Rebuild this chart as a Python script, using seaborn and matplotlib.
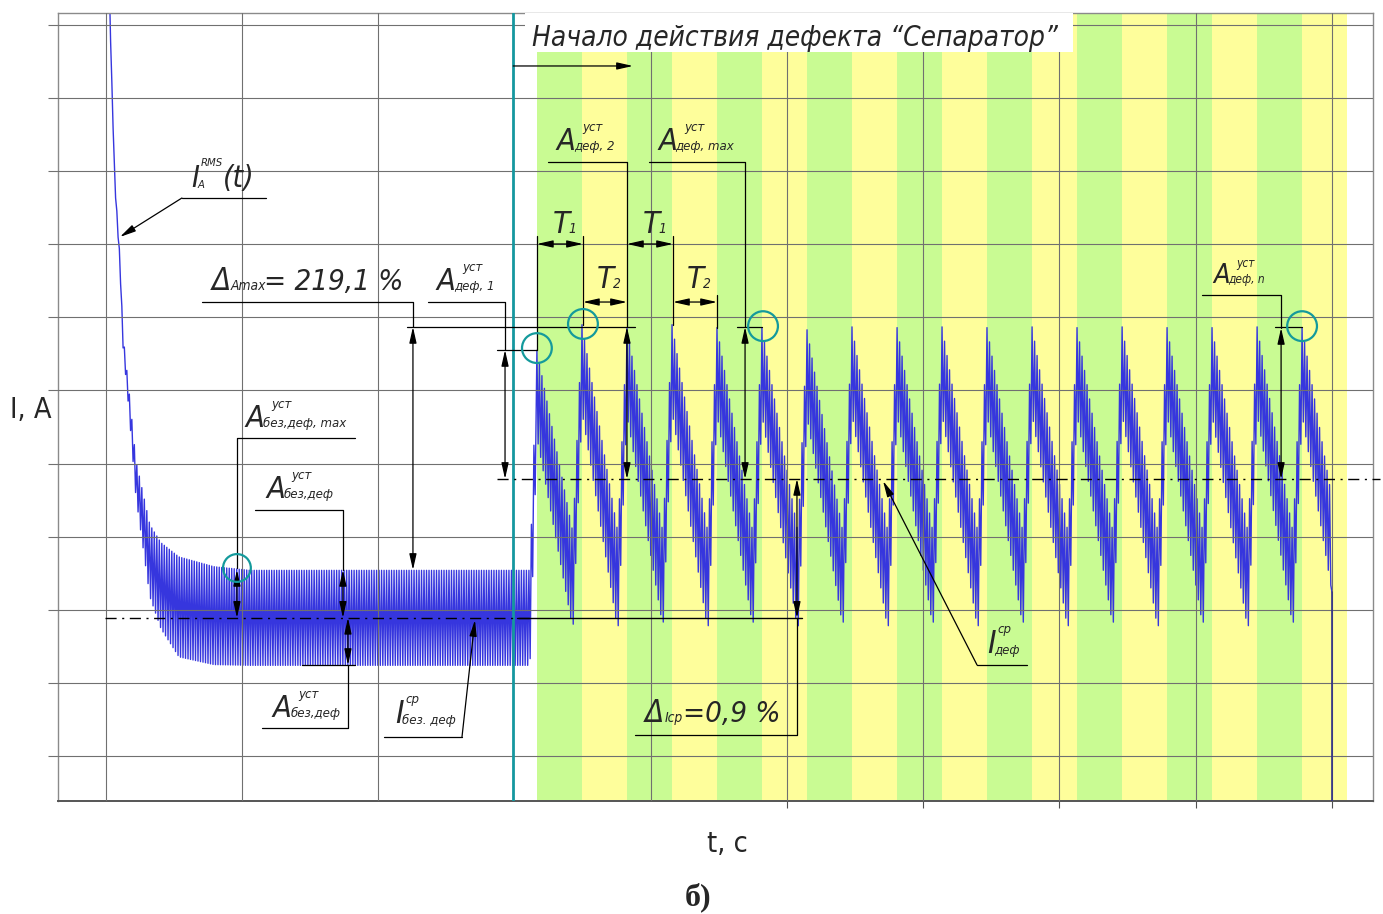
import matplotlib
matplotlib.use('Agg')
import matplotlib.pyplot as plt
import matplotlib.font_manager as fm
from matplotlib.patches import Rectangle
import numpy as np
import seaborn as sns

# --- данные (t и I в делениях сетки) ---
# пуск до появления дефекта: время, среднее значение и полуразмах колебаний тока
t_pusk = [0.007, 0.029, 0.048, 0.066, 0.103, 0.125, 0.169, 0.220, 0.323, 0.404, 0.536, 0.793, 1.057, 3.113]
I_pusk_sred = [13.39, 11.16, 9.91, 8.82, 7.76, 6.69, 5.87, 4.80, 3.67, 3.33, 3.04, 2.92, 2.89, 2.89]
I_pusk_amp = [0.02, 0.02, 0.025, 0.035, 0.06, 0.085, 0.137, 0.246, 0.492, 0.588, 0.684, 0.670, 0.650, 0.650]

# режим с дефектом "Сепаратор": моменты пиков, пики и провалы зубцов
t_pik = [3.164, 3.495, 3.825, 4.156, 4.486, 4.816, 5.147, 5.477, 5.808,
         6.138, 6.468, 6.799, 7.129, 7.460, 7.790, 8.120, 8.451, 8.781]
I_pik = [6.55, 6.90, 6.86, 6.90, 6.86, 6.86, 6.83, 6.87, 6.86,
         6.87, 6.86, 6.87, 6.86, 6.87, 6.86, 6.86, 6.87, 6.86]
I_proval = [2.72, 2.70, 2.75, 2.70, 2.75, 2.70, 2.75, 2.70, 2.75,
            2.70, 2.75, 2.70, 2.75, 2.70, 2.75, 2.70, 2.75, 2.75]
I_spad_verh = 4.05   # верх колебаний в конце спада зубца
razmah_pik = 1.19    # размах колебаний сразу после пика
t_konec = 9.0        # конец записи

I_sr_bez_def = 2.89
I_sr_def = 4.79
I_bez_def_max = 3.545
I_bez_def_min = 2.245

polosy = t_pik + [9.11]   # границы зелёных / жёлтых полос

# --- шрифты ---
sns.set_style('white')
imena = {f.name for f in fm.fontManager.ttflist}
SHRIFT = 'Liberation Sans Narrow' if 'Liberation Sans Narrow' in imena else 'DejaVu Sans'
plt.rcParams['font.family'] = [SHRIFT, 'DejaVu Sans']
plt.rcParams['font.stretch'] = 'condensed'
put = fm.findfont(fm.FontProperties(family=SHRIFT, stretch='condensed', style='italic'))
if 'Narrow' in put:
    K = 1.0
elif 'Condensed' in put:
    K = 0.9
else:
    K = 0.76

# --- огибающие сигнала ---
t_br = list(t_pusk)
up_br = [s + a for s, a in zip(I_pusk_sred, I_pusk_amp)]
lo_br = [s - a for s, a in zip(I_pusk_sred, I_pusk_amp)]
for k in range(len(t_pik)):
    T = (t_pik[k + 1] if k + 1 < len(t_pik) else t_pik[k] + 0.33) - t_pik[k]
    t_br += [t_pik[k], t_pik[k] + 0.8 * T]
    up_br += [I_pik[k], I_spad_verh]
    lo_br += [I_pik[k] - razmah_pik, I_proval[k]]

# вершины колебаний
N_zub = 36
h = 0.33 / N_zub
seg = np.arange(t_pusk[0], t_pik[0] - h / 2, h)
n = len(seg)
t_v = list(seg)
verh = [(n - j) % 2 == 0 for j in range(n)]
for k in range(len(t_pik)):
    T = t_pik[k + 1] - t_pik[k] if k + 1 < len(t_pik) else 0.33
    tt = t_pik[k] + np.arange(N_zub) * T / N_zub
    tt = tt[tt <= t_konec]
    t_v += list(tt)
    verh += [j % 2 == 0 for j in range(len(tt))]
t_v = np.array(t_v)
I_v = np.where(verh, np.interp(t_v, t_br, up_br), np.interp(t_v, t_br, lo_br))
I_konec = np.interp(t_konec, t_br, lo_br)
t_v = np.append(t_v, t_konec)
I_v = np.append(I_v, I_konec)

# --- рисунок ---
fig = plt.figure(figsize=(13.83, 9.14), dpi=100)
ax = fig.add_axes([0.0419, 0.1236, 0.9509, 0.8622])
ax.set_xlim(-0.352, 9.302)
ax.set_ylim(0.384, 11.164)

zel, zhel = '#c9fb93', '#fefe9b'
for i in range(len(polosy) - 1):
    ax.axvspan(polosy[i], polosy[i + 1], color=zel if i % 2 == 0 else zhel, lw=0, zorder=0)

sns.lineplot(x=t_v, y=I_v, sort=False, estimator=None, color='#3636de', linewidth=1.0, ax=ax, zorder=2)

for x in [0, 1, 2, 4, 5, 6, 7, 8, 9]:
    ax.axvline(x, color='#707070', lw=0.8, zorder=3)
for y in range(1, 12):
    ax.axhline(y, color='#707070', lw=0.8, zorder=3)
ax.axvline(2.99, color='#15979f', lw=2.0, zorder=4)
# обрыв тока в конце записи
ax.plot([t_konec, t_konec], [I_konec, 0.0], color='#30308a', lw=1.2, zorder=4)

ax.set_yticks(range(1, 12))
ax.set_xticks([5, 6, 7, 8, 9])
ax.set_xticklabels([])
ax.set_yticklabels([])
ax.tick_params(axis='y', length=7, width=0.8, color='#707070', direction='out', left=True)
ax.tick_params(axis='x', length=5, width=0.8, color='#505050', direction='out', bottom=True)
for s in ax.spines.values():
    s.set_color('#8a8a8a')
    s.set_linewidth(1.0)
ax.spines['bottom'].set_color('#555555')
ax.spines['bottom'].set_linewidth(1.4)

# средние значения
ax.plot([-0.007, 3.11], [I_sr_bez_def] * 2, color='k', lw=1.0, ls=(0, (8, 4, 1.5, 4)), zorder=6)
ax.plot([3.018, 5.110], [I_sr_bez_def] * 2, color='k', lw=1.0, zorder=6)
ax.plot([2.871, 9.354], [I_sr_def] * 2, color='k', lw=1.0, ls=(0, (8, 4, 1.5, 4)), zorder=6, clip_on=False)

# заголовок
ax.add_patch(Rectangle((3.076, 10.631), 4.024, 0.6, facecolor='white', edgecolor='none', zorder=5))
ax.text(3.128, 10.713, 'Начало действия дефекта “Сепаратор”', fontsize=22.3 * K, style='italic',
        va='baseline', ha='left', zorder=6)

KL = dict(color='k', lw=0.9, zorder=7)


def liniya(xs, ys):
    ax.plot(xs, ys, **KL)


def strelka(ot, do, dve=False):
    stil = '<|-|>' if dve else '-|>'
    ax.annotate('', xy=do, xytext=ot, zorder=7,
                arrowprops=dict(arrowstyle=stil + ',head_length=0.8,head_width=0.18',
                                color='k', lw=0.9, shrinkA=0, shrinkB=0, mutation_scale=12))


def oboznach(x, y, glav, verh_t, niz_t, razm=24.5, mal=10.5, dx=5):
    t = ax.text(x, y, glav, fontsize=razm * K, style='italic', va='baseline', ha='left', zorder=7)
    if verh_t:
        ax.annotate(verh_t, xy=(1, 1), xycoords=t, xytext=(dx, 4), textcoords='offset points',
                    fontsize=mal * K, style='italic', va='top', ha='left', zorder=7)
    if niz_t:
        ax.annotate(niz_t, xy=(1, 0), xycoords=t, xytext=(-1, 2), textcoords='offset points',
                    fontsize=mal * K, style='italic', va='bottom', ha='left', zorder=7)
    return t


# стрелка начала дефекта
strelka((2.99, 10.439), (3.869, 10.439))

# I_A^RMS(t)
oboznach(0.624, 8.784, 'I', 'RMS', 'A', razm=24, mal=9, dx=1)
ax.text(0.859, 8.784, '(t)', fontsize=24 * K, style='italic', va='baseline', zorder=7)
liniya([0.558, 1.175], [8.633, 8.633])
strelka((0.558, 8.633), (0.103, 8.100))

# Δ Amax
t = ax.text(0.778, 7.375, 'Δ', fontsize=25 * K, style='italic', va='baseline', zorder=7)
ax.annotate('Amax', xy=(1, 0), xycoords=t, xytext=(0, 2), textcoords='offset points',
            fontsize=11 * K, style='italic', va='bottom', zorder=7)
ax.text(1.16, 7.375, '= 219,1 %', fontsize=23.5 * K, style='italic', va='baseline', zorder=7)
liniya([0.705, 2.254, 2.254], [7.210, 7.210, 6.869])
strelka((2.254, 6.869), (2.254, I_bez_def_max), dve=True)
liniya([2.210, 3.884], [6.869, 6.869])

# A деф,1
oboznach(2.430, 7.375, 'A', 'уст', 'деф, 1')
liniya([2.364, 2.930, 2.930], [7.210, 7.210, 6.554])
strelka((2.930, 6.554), (2.930, I_sr_def), dve=True)
liniya([2.871, 3.164], [6.554, 6.554])

# A без,деф,max
oboznach(1.028, 5.501, 'A', 'уст', 'без,деф, max')
liniya([1.828, 0.962, 0.962], [5.350, 5.350, 3.572])
strelka((0.962, I_bez_def_max), (0.962, I_sr_bez_def), dve=True)

# A без,деф (верх)
oboznach(1.175, 4.529, 'A', 'уст', 'без,деф')
liniya([1.094, 1.740, 1.740], [4.365, 4.365, I_bez_def_max])
strelka((1.740, I_bez_def_max), (1.740, I_sr_bez_def), dve=True)

# A без,деф (низ)
oboznach(1.226, 1.534, 'A', 'уст', 'без,деф')
liniya([1.145, 1.777, 1.777], [1.383, 1.383, I_bez_def_min])
strelka((1.777, I_sr_bez_def), (1.777, I_bez_def_min), dve=True)
liniya([1.439, 1.828], [I_bez_def_min, I_bez_def_min])

# I ср без. деф
oboznach(2.122, 1.451, 'I', 'ср', 'без. деф', razm=26, dx=1)
liniya([2.041, 2.614], [1.260, 1.260])
strelka((2.614, 1.260), (2.709, 2.860))

# T1, T2
oboznach(3.282, 8.155, 'T', None, '1', razm=25, mal=11)
oboznach(3.943, 8.155, 'T', None, '1', razm=25, mal=11)
oboznach(3.605, 7.402, 'T', None, '2', razm=25, mal=11)
oboznach(4.266, 7.402, 'T', None, '2', razm=25, mal=11)
strelka((3.164, 8.004), (3.502, 8.004), dve=True)
strelka((3.825, 8.004), (4.163, 8.004), dve=True)
strelka((3.502, 7.210), (3.825, 7.210), dve=True)
strelka((4.163, 7.210), (4.486, 7.210), dve=True)
liniya([3.164, 3.164], [8.114, 6.554])
liniya([3.502, 3.502], [8.114, 6.896])
liniya([4.163, 4.163], [8.114, 6.896])
liniya([4.486, 4.486], [7.306, 6.855])

# A деф,2
oboznach(3.311, 9.290, 'A', 'уст', 'деф, 2')
liniya([3.245, 3.825, 3.825], [9.126, 9.126, 6.869])
strelka((3.825, 6.869), (3.825, I_sr_def), dve=True)

# A деф,max
oboznach(4.053, 9.290, 'A', 'уст', 'деф, max')
liniya([3.987, 4.692, 4.692], [9.126, 9.126, 6.869])
strelka((4.692, 6.869), (4.692, I_sr_def), dve=True)
liniya([4.633, 4.816], [6.869, 6.869])

# A деф,n
oboznach(8.128, 7.471, 'A', 'уст', 'деф, n', razm=21.5, mal=9.5)
liniya([8.047, 8.627, 8.627], [7.306, 7.306, 6.855])
strelka((8.627, 6.855), (8.627, I_sr_def), dve=True)
liniya([8.583, 8.781], [6.869, 6.869])

# Δ Icp
t = ax.text(3.957, 1.465, 'Δ', fontsize=25 * K, style='italic', va='baseline', zorder=7)
ax.annotate('Icp', xy=(1, 0), xycoords=t, xytext=(0, 2), textcoords='offset points',
            fontsize=11 * K, style='italic', va='bottom', zorder=7)
ax.text(4.24, 1.465, '=0,9 %', fontsize=23.5 * K, style='italic', va='baseline', zorder=7)
liniya([3.884, 5.073, 5.073], [1.287, 1.287, I_sr_bez_def])
strelka((5.073, I_sr_def), (5.073, I_sr_bez_def), dve=True)

# I ср деф
oboznach(6.468, 2.409, 'I', 'ср', 'деф', razm=26, dx=1)
liniya([6.395, 6.762], [I_bez_def_min, I_bez_def_min])
strelka((6.395, I_bez_def_min), (5.705, 4.762))

# окружности у пиков
ax.scatter([3.164, 3.502, 4.824, 8.781], [6.58, 6.91, 6.88, 6.88], s=460,
           facecolors='none', edgecolors='#149a9c', linewidths=1.6, zorder=8)
ax.scatter([0.962], [3.572], s=400, facecolors='none', edgecolors='#149a9c', linewidths=1.6, zorder=8)

# подписи осей
fig.text(10 / 1383, 1 - 418 / 914, 'I, A', fontsize=23 * K, va='baseline', ha='left')
fig.text(727 / 1383, 1 - 852 / 914, 't, c', fontsize=23 * K, va='baseline', ha='center')
fig.text(698 / 1383, 1 - 905 / 914, 'б)', fontsize=23, weight='bold', family='Liberation Serif',
         va='baseline', ha='center')

fig.savefig('out.png', dpi=100)
